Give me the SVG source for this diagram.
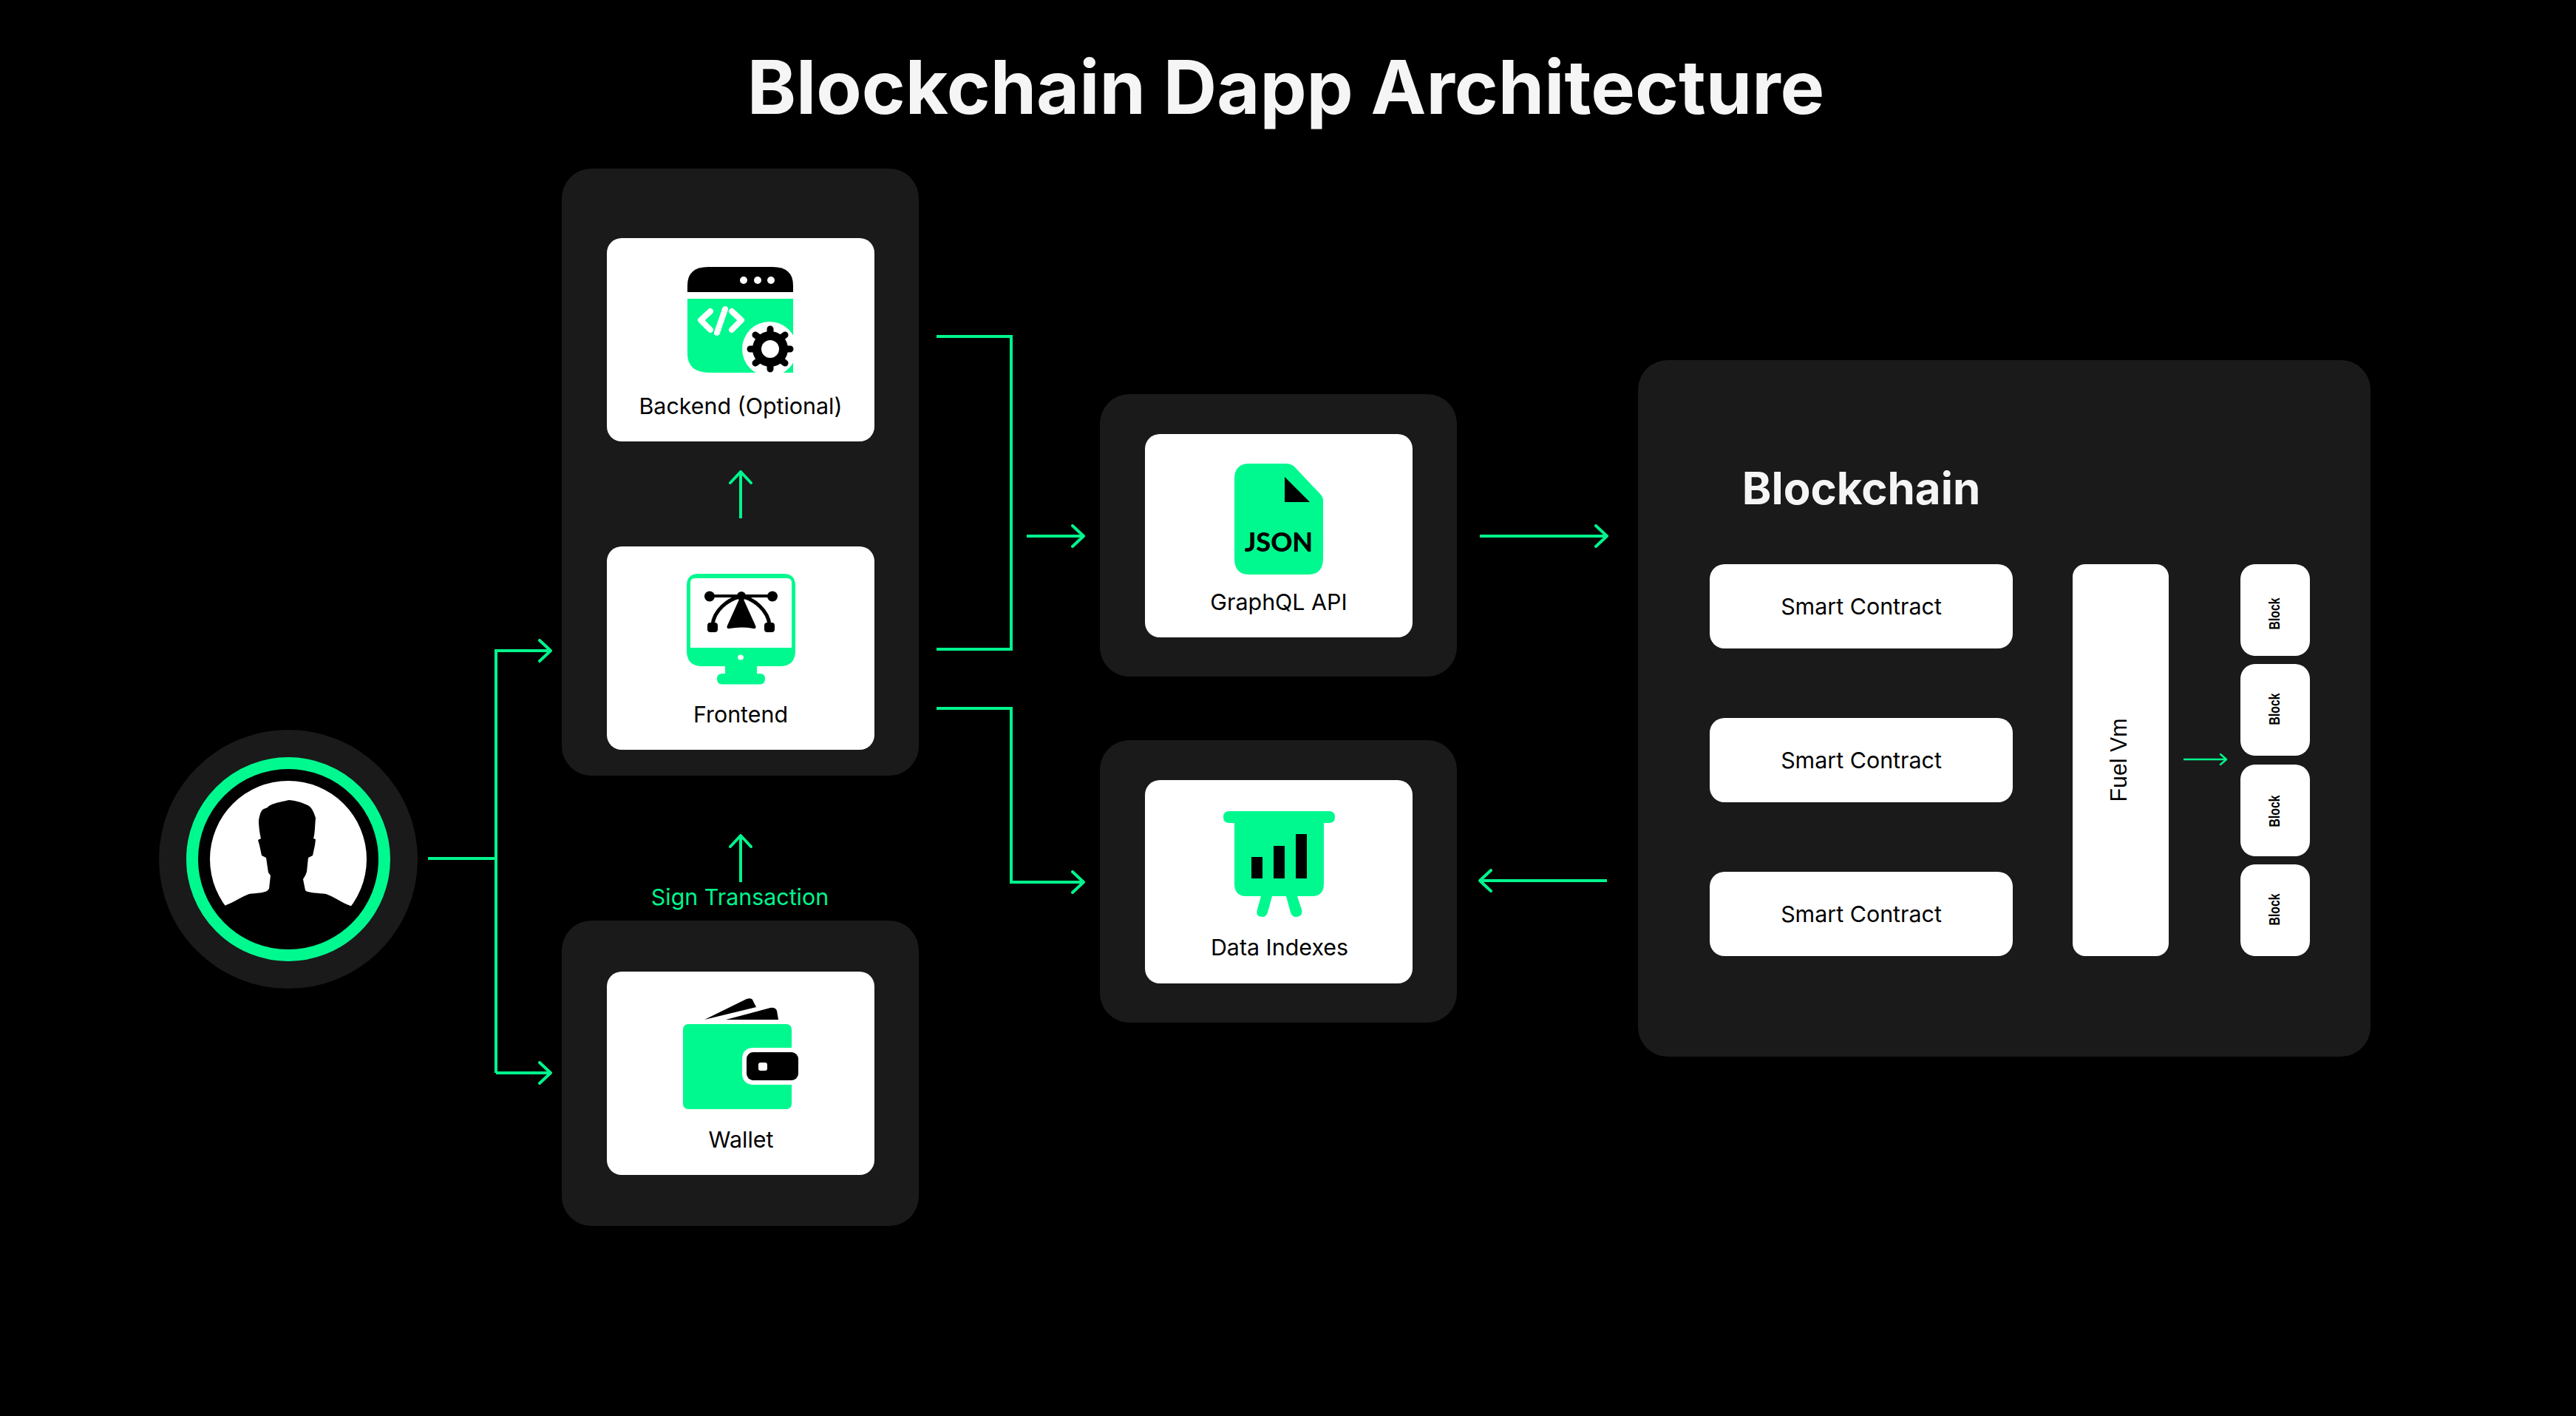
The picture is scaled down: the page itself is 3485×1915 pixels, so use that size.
<svg xmlns="http://www.w3.org/2000/svg" width="3485" height="1915" viewBox="0 0 3485 1915">
<defs>
<style>
.panel{fill:#1a1a1a}
.card{fill:#fff}
.g{fill:#00f98f}
.k{fill:#000}
.w{fill:#fff}
.lbl{font-family:Inter,"Noto Sans",sans-serif;font-size:30.4px;font-weight:400;fill:#000;text-anchor:middle}
.conn{fill:none;stroke:#00f58c;stroke-width:4}
.head{fill:none;stroke:#00f58c;stroke-width:4;stroke-linecap:round;stroke-linejoin:round}
.block{font-family:"Liberation Sans",Arial,sans-serif;font-size:20px;font-weight:700;fill:#000;text-anchor:middle}
</style>
<marker id="ah" viewBox="0 0 20 32" refX="18" refY="16" markerWidth="20" markerHeight="32" markerUnits="userSpaceOnUse" orient="auto"><path d="M3 2 L18 16 L3 30" class="head"/></marker>
</defs>
<rect width="3485" height="1915" fill="#000"/>
<text x="1739.5" y="154" font-family="Inter,'Noto Sans',sans-serif" font-size="100.3" font-weight="700" fill="#f5f5f5" text-anchor="middle">Blockchain Dapp Architecture</text>

<g id="user">
<circle cx="390" cy="1162" r="175" class="panel"/>
<circle cx="390" cy="1162" r="130" fill="#000" stroke="#00f98f" stroke-width="16"/>
<circle cx="390" cy="1162" r="106" fill="#fff"/>
<path class="k" d="M391 1082 C403 1083 413 1087 418 1090 C423 1094 425 1100 427 1106 C426 1118 426 1128 424 1134 L427 1135 L426 1143 L423 1157 L417 1160 L415 1179 L413 1184 L410 1189 L413 1204 L414 1205 C417 1207 430 1208 441 1209 C450 1212 465 1222 474 1225 L478 1226 A109 109 0 0 1 302 1226 L306 1224 C315 1221 328 1212 337 1209 C348 1208 358 1207 361 1205 L364 1202 L366 1184 L363 1180 L360 1160 L354 1157 L351 1143 L349 1136 L353 1134 C351 1126 350 1116 350 1110 C351 1103 353 1095 357 1094 L362 1092 C365 1088 372 1086 391 1082 Z"/>
</g>

<g id="client-panel"><rect x="760" y="228" width="483" height="821" rx="40" class="panel"/></g>

<g id="backend">
<rect x="821" y="322" width="362" height="275" rx="20" class="card"/>
<path class="k" d="M930 395 V386 Q930 361 958 361 H1045 Q1073 361 1073 386 V395 Z"/>
<path class="g" d="M930 404 H1073 V504 H960 Q930 504 930 478 Z"/>
<circle cx="1006" cy="379" r="5" class="w"/><circle cx="1025" cy="379" r="5" class="w"/><circle cx="1043" cy="379" r="5" class="w"/>
<path d="M961 421 L948 433 L961 446 M981 418 L970 450 M990 421 L1003 433 L990 446" fill="none" stroke="#fff" stroke-width="8" stroke-linecap="round" stroke-linejoin="round"/>
<circle cx="1041" cy="472" r="37" class="w"/>
<g transform="translate(1042 472)">
<circle r="18" fill="none" stroke="#000" stroke-width="12"/>
<path stroke="#000" stroke-width="9" stroke-linecap="round" d="M0 -22V-27 M0 22V27 M22 0H27 M-22 0H-27 M16 -16L20 -19 M-16 -16L-20 -19 M16 16L20 19 M-16 16L-20 19"/>
</g>
<text x="1002" y="560" class="lbl">Backend (Optional)</text>
</g>

<g id="frontend">
<rect x="821" y="739" width="362" height="275" rx="20" class="card"/>
<path class="g" fill-rule="evenodd" d="M945 776 H1060 Q1076 776 1076 792 V880 Q1076 901 1055 901 H1024 V911 H1028 Q1035 911 1035 918 Q1035 925.500 1028 925.500 H977 Q970 925.500 970 918 Q970 911 977 911 H981 V901 H950 Q929 901 929 880 V792 Q929 776 945 776 Z M940 782 Q934 782 934 788 V876 H1071 V788 Q1071 782 1065 782 Z"/>
<ellipse cx="1002" cy="889" rx="4" ry="3.500" class="w"/>
<path class="k" d="M1003 804 L1022 846 Q1024 851 1019 850 Q1003 847 987 850 Q982 851 984 846 Z"/>
<path d="M958 806 H1046" stroke="#000" stroke-width="4" fill="none"/>
<circle cx="960" cy="806.500" r="7" class="k"/><circle cx="1045" cy="806.500" r="7" class="k"/><circle cx="1003" cy="806" r="6" class="k"/>
<path d="M964 845 C966 825 985 811 1000 807 M1041 845 C1039 825 1020 811 1006 807" fill="none" stroke="#000" stroke-width="5"/>
<rect x="957" y="842" width="14" height="13" rx="4" class="k"/><rect x="1034" y="842" width="14" height="13" rx="4" class="k"/>
<text x="1002" y="977" class="lbl">Frontend</text>
</g>

<g id="wallet-panel"><rect x="760" y="1245" width="483" height="413" rx="40" class="panel"/></g>
<g id="wallet">
<rect x="821" y="1314" width="362" height="275" rx="20" class="card"/>
<path class="k" d="M953 1379 L1010 1351 Q1016 1349 1018 1352 L1023 1362 Z"/>
<path class="k" d="M982 1379 L1042 1363 Q1049 1362 1051 1367 L1053 1379 Z"/>
<rect x="924" y="1385" width="147" height="115" rx="7" class="g"/>
<path class="w" d="M1071 1417 H1020 Q1004 1417 1004 1433 V1451 Q1004 1467 1020 1467 H1071 Z"/>
<rect x="1010" y="1423" width="70" height="38" rx="9" class="k"/>
<rect x="1026" y="1437" width="12" height="11" rx="3" class="w"/>
<text x="1002.500" y="1552" class="lbl">Wallet</text>
</g>

<g id="graphql-panel"><rect x="1488" y="533" width="483" height="382" rx="40" class="panel"/></g>
<g id="graphql">
<rect x="1549" y="587" width="362" height="275" rx="20" class="card"/>
<path class="g" d="M1690 627 H1741 Q1745 627 1750 630 L1786 668 Q1790 672 1790 677 V755 Q1790 777 1770 777 H1690 Q1670 777 1670 755 V648 Q1670 627 1690 627 Z"/>
<path class="k" d="M1738 645 L1772 679 H1738 Z"/>
<text x="1730" y="746" font-family="Lato,'Noto Sans',sans-serif" font-size="36" font-weight="900" fill="#000" text-anchor="middle">JSON</text>
<text x="1730" y="825" class="lbl">GraphQL API</text>
</g>

<g id="data-panel"><rect x="1488" y="1001" width="483" height="382" rx="40" class="panel"/></g>
<g id="data">
<rect x="1549" y="1055" width="362" height="275" rx="20" class="card"/>
<path class="g" d="M1663 1097 H1798 Q1806 1097 1806 1105 Q1806 1113 1798 1113 H1791 V1195 Q1791 1212 1775 1212 H1755 L1761 1230 Q1763 1240 1753 1240 Q1748 1240 1746 1234 L1740 1212 H1721 L1715 1234 Q1713 1240 1708 1240 Q1698 1240 1701 1230 L1706 1212 H1686 Q1670 1212 1670 1195 V1113 H1663 Q1655 1113 1655 1105 Q1655 1097 1663 1097 Z"/>
<rect x="1693" y="1159" width="15" height="29" class="k"/>
<rect x="1723" y="1144" width="15" height="44" class="k"/>
<rect x="1753" y="1128" width="15" height="60" class="k"/>
<text x="1731" y="1292" class="lbl">Data Indexes</text>
</g>

<g id="blockchain-panel">
<rect x="2216" y="487" width="991" height="942" rx="40" class="panel"/>
<text x="2518" y="682" font-family="Inter,'Noto Sans',sans-serif" font-size="60" font-weight="700" fill="#f5f5f5" text-anchor="middle">Blockchain</text>
</g>
<g id="contract1"><rect x="2313" y="763" width="410" height="114" rx="20" class="card"/><text x="2518" y="830.500" class="lbl">Smart Contract</text></g>
<g id="contract2"><rect x="2313" y="971" width="410" height="114" rx="20" class="card"/><text x="2518" y="1038.500" class="lbl">Smart Contract</text></g>
<g id="contract3"><rect x="2313" y="1179" width="410" height="114" rx="20" class="card"/><text x="2518" y="1246.500" class="lbl">Smart Contract</text></g>
<g id="fuel-vm"><rect x="2804" y="763" width="130" height="530" rx="17" class="card"/>
<text transform="translate(2877 1028) rotate(-90)" font-family="'Liberation Sans',Arial,sans-serif" font-size="32" fill="#000" text-anchor="middle" textLength="113" lengthAdjust="spacingAndGlyphs">Fuel Vm</text></g>
<g id="block1"><rect x="3031" y="763" width="94" height="124" rx="20" class="card"/><text transform="translate(3084 830) rotate(-90)" class="block" textLength="43" lengthAdjust="spacingAndGlyphs">Block</text></g>
<g id="block2"><rect x="3031" y="898" width="94" height="124" rx="20" class="card"/><text transform="translate(3084 959) rotate(-90)" class="block" textLength="43" lengthAdjust="spacingAndGlyphs">Block</text></g>
<g id="block3"><rect x="3031" y="1034" width="94" height="124" rx="20" class="card"/><text transform="translate(3084 1097) rotate(-90)" class="block" textLength="43" lengthAdjust="spacingAndGlyphs">Block</text></g>
<g id="block4"><rect x="3031" y="1169" width="94" height="124" rx="20" class="card"/><text transform="translate(3084 1230) rotate(-90)" class="block" textLength="43" lengthAdjust="spacingAndGlyphs">Block</text></g>

<g id="connectors">
<path class="conn" d="M579 1161 H671"/>
<path class="conn" d="M671 1451 V880 H745" marker-end="url(#ah)"/>
<path class="conn" d="M671 1451 H745" marker-end="url(#ah)"/>
<path class="conn" d="M1002 701 V638" marker-end="url(#ah)"/>
<path class="conn" d="M1002 1193 V1130" marker-end="url(#ah)"/>
<path class="conn" d="M1267 455 H1368 V878 H1267"/>
<path class="conn" d="M1389 725 H1466" marker-end="url(#ah)"/>
<path class="conn" d="M1267 958 H1368 V1193 H1466" marker-end="url(#ah)"/>
<path class="conn" d="M2002 725 H2174" marker-end="url(#ah)"/>
<path class="conn" d="M2174 1191 H2002" marker-end="url(#ah)"/>
<path class="conn" style="stroke-width:2.5" d="M2954 1027 H3012"/>
<path class="head" style="stroke-width:2.5" d="M3004 1020 L3012 1027 L3004 1034"/>
</g>
<text x="1001" y="1224" font-family="Inter,'Noto Sans',sans-serif" font-size="30.400" font-weight="400" fill="#00f58c" text-anchor="middle">Sign Transaction</text>
</svg>
